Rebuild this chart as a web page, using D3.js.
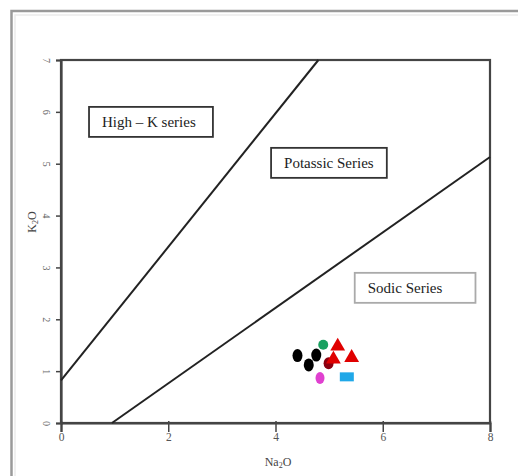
<!DOCTYPE html>
<html><head><meta charset="utf-8">
<script src="https://cdn.jsdelivr.net/npm/d3@7"></script>
<style>body{margin:0;background:#fff}svg{display:block}</style>
</head><body>
<svg id="c" width="518" height="476"></svg>
<script>
// Data
const xTicks = [0, 2, 4, 6, 8];
const yTicks = [0, 1, 2, 3, 4, 5, 6, 7];
const boundaryHighK = [[0, 0.82], [4.8, 7]];
const boundarySodic = [[0.95, 0], [8, 5.13]];
const fieldLabels = ["High – K series", "Potassic Series", "Sodic Series"];
const fieldAnchors = [[0.765, 5.71], [4.16, 4.92], [5.72, 2.51]];
const blackSamples = [[4.41, 1.30], [4.62, 1.12], [4.76, 1.31]];
const greenSamples = [[4.89, 1.51]];
const redTriSamples = [[5.16, 1.48], [5.42, 1.26], [5.08, 1.23]];
const darkRedSamples = [[4.99, 1.15]];
const magentaSamples = [[4.83, 0.87]];
const cyanSamples = [[5.33, 0.89]];

const svg = d3.select("#c");
// outer frame
svg.append("rect").attr("x", 11.5).attr("y", 11).attr("width", 540).attr("height", 500)
  .attr("fill", "none").attr("stroke", "#9a9a9a").attr("stroke-width", 2.5);
svg.append("rect").attr("x", 15).attr("y", 15).attr("width", 540).attr("height", 500)
  .attr("fill", "none").attr("stroke", "#ececec").attr("stroke-width", 1.5);

const x = d3.scaleLinear().domain([0, 8]).range([61, 490]);
const y = d3.scaleLinear().domain([0, 7]).range([423, 60]);
const serif = "'Liberation Serif','Times New Roman',serif";

// plot frame
svg.append("rect").attr("x", x(0)).attr("y", y(7)).attr("width", x(8) - x(0)).attr("height", y(0) - y(7))
  .attr("fill", "none").attr("stroke", "#444").attr("stroke-width", 2.2);

// x axis
const xa = svg.append("g").attr("transform", `translate(0,${y(0)})`)
  .call(d3.axisBottom(x).tickValues(xTicks).tickSize(9).tickFormat(d3.format("d")));
xa.select(".domain").attr("stroke", "#444").attr("stroke-width", 2.2);
xa.selectAll(".tick line").attr("stroke", "#444").attr("stroke-width", 1.5).attr("y1", -2);
xa.selectAll("text").attr("font-family", serif).attr("font-size", 11.5).attr("fill", "#555").attr("y", 8).attr("dy", "0.9em");

// y axis
const ya = svg.append("g").attr("transform", `translate(${x(0)},0)`)
  .call(d3.axisLeft(y).tickValues(yTicks).tickSize(5).tickFormat(d3.format("d")));
ya.select(".domain").attr("stroke", "#444").attr("stroke-width", 2.2);
ya.selectAll(".tick line").attr("stroke", "#444").attr("stroke-width", 1.5);
ya.selectAll("text").attr("font-family", serif).attr("font-size", 10).attr("fill", "#666")
  .attr("x", 0).attr("dy", 0).attr("text-anchor", "middle")
  .attr("transform", "translate(-18,0) rotate(90)");

// axis titles
const xt = svg.append("text").attr("x", 278).attr("y", 466).attr("text-anchor", "middle")
  .attr("font-family", serif).attr("font-size", 12).attr("fill", "#444");
xt.append("tspan").text("Na");
xt.append("tspan").attr("font-size", 8).attr("dy", 2).text("2");
xt.append("tspan").attr("dy", -2).text("O");
const yt = svg.append("text").attr("transform", "translate(36,222) rotate(-90)").attr("text-anchor", "middle")
  .attr("font-family", serif).attr("font-size", 12).attr("fill", "#444");
yt.append("tspan").text("K");
yt.append("tspan").attr("font-size", 8).attr("dy", 2).text("2");
yt.append("tspan").attr("dy", -2).text("O");

// boundary lines
const line = d3.line().x(d => x(d[0])).y(d => y(d[1]));
[boundaryHighK, boundarySodic].forEach(b => {
  svg.append("path").attr("d", line(b)).attr("fill", "none").attr("stroke", "#222").attr("stroke-width", 2);
});

// field labels
const boxStroke = ["#333", "#333", "#aaa"];
const padRight = [17, 13, 33];
fieldLabels.forEach((t, i) => {
  const g = svg.append("g");
  const tx = g.append("text").attr("x", x(fieldAnchors[i][0])).attr("y", y(fieldAnchors[i][1]))
    .attr("font-family", serif).attr("font-size", 15).attr("fill", "#222").text(t);
  const bb = tx.node().getBBox();
  const by = y(fieldAnchors[i][1]);
  g.insert("rect", "text").attr("x", bb.x - 13).attr("y", by - 20).attr("width", bb.width + 13 + padRight[i]).attr("height", 30)
    .attr("fill", "#fff").attr("stroke", boxStroke[i]).attr("stroke-width", 1.8);
});

// samples
svg.selectAll(".blk").data(blackSamples).join("ellipse")
  .attr("cx", d => x(d[0])).attr("cy", d => y(d[1])).attr("rx", 5).attr("ry", 6.5).attr("fill", "#000");
svg.selectAll(".dr").data(darkRedSamples).join("ellipse")
  .attr("cx", d => x(d[0])).attr("cy", d => y(d[1])).attr("rx", 5).attr("ry", 6).attr("fill", "#8a0010");
svg.selectAll(".gr").data(greenSamples).join("circle")
  .attr("cx", d => x(d[0])).attr("cy", d => y(d[1])).attr("r", 5).attr("fill", "#1aa060");
const tri = d3.symbol().type(d3.symbolTriangle).size(95);
svg.selectAll(".rt").data(redTriSamples).join("path")
  .attr("transform", d => `translate(${x(d[0])},${y(d[1])})`).attr("d", tri).attr("fill", "#e00000");
svg.selectAll(".mg").data(magentaSamples).join("ellipse")
  .attr("cx", d => x(d[0])).attr("cy", d => y(d[1])).attr("rx", 4.5).attr("ry", 6).attr("fill", "#e040d0");
svg.selectAll(".cy").data(cyanSamples).join("rect")
  .attr("x", d => x(d[0]) - 7).attr("y", d => y(d[1]) - 4.5).attr("width", 14).attr("height", 9).attr("fill", "#20a8e8");
</script>
</body></html>
